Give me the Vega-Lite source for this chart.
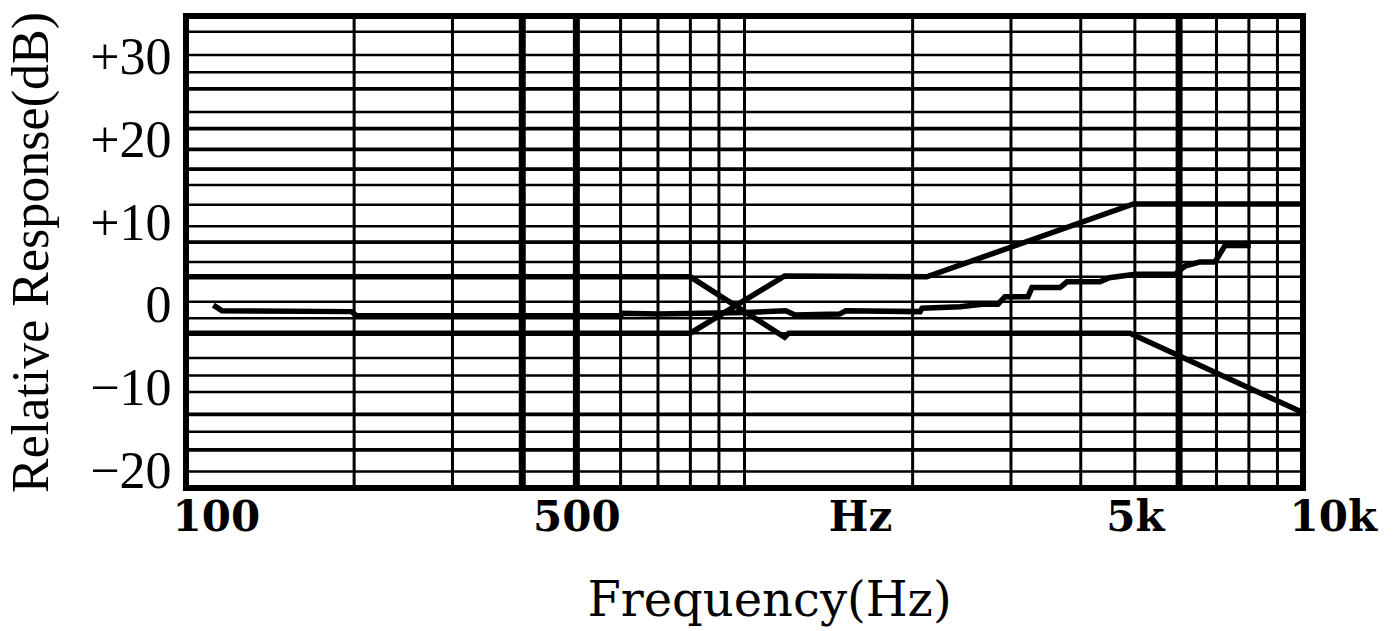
{
  "$schema": "https://vega.github.io/schema/vega-lite/v6.json",
  "autosize": "none",
  "width": 1117,
  "height": 472,
  "padding": {"left": 186, "top": 16, "right": 92, "bottom": 143},
  "background": "white",
  "view": {"stroke": "black", "strokeWidth": 6},
  "resolve": {"scale": {"strokeWidth": "independent"}},
  "datasets": {
    "hgrid": [
      {"db": 33.1, "w": "normal"}, {"db": 30.3, "w": "normal"}, {"db": 28.2, "w": "normal"},
      {"db": 26.2, "w": "heavy"}, {"db": 23.4, "w": "normal"}, {"db": 21.4, "w": "heavy"},
      {"db": 18.9, "w": "heavy"}, {"db": 16.5, "w": "heavy"}, {"db": 14.6, "w": "normal"},
      {"db": 12.2, "w": "normal"}, {"db": 9.6, "w": "normal"}, {"db": 7.7, "w": "heavy"},
      {"db": 5.3, "w": "normal"}, {"db": 3.5, "w": "normal"}, {"db": 0.5, "w": "normal"},
      {"db": -1.5, "w": "normal"}, {"db": -3.3, "w": "normal"}, {"db": -6.3, "w": "normal"},
      {"db": -8.4, "w": "normal"}, {"db": -10.4, "w": "normal"}, {"db": -13.1, "w": "heavy"},
      {"db": -15.2, "w": "normal"}, {"db": -17.4, "w": "heavy"}, {"db": -20.0, "w": "normal"}
    ],
    "vgrid": [
      {"f": 200, "w": "normal"}, {"f": 300, "w": "normal"}, {"f": 400, "w": "heavy"},
      {"f": 500, "w": "heavy"}, {"f": 600, "w": "normal"}, {"f": 700, "w": "normal"},
      {"f": 800, "w": "normal"}, {"f": 900, "w": "normal"}, {"f": 1000, "w": "normal"},
      {"f": 2000, "w": "normal"}, {"f": 3000, "w": "normal"}, {"f": 4000, "w": "normal"},
      {"f": 5000, "w": "normal"}, {"f": 6000, "w": "heavy"}, {"f": 7000, "w": "normal"},
      {"f": 8000, "w": "normal"}, {"f": 9000, "w": "normal"}
    ],
    "curves": [
      {"series": "A", "f": 100, "db": 3.5}, {"series": "A", "f": 800, "db": 3.5},
      {"series": "A", "f": 1180, "db": -3.8}, {"series": "A", "f": 1200, "db": -3.3},
      {"series": "A", "f": 4900, "db": -3.3}, {"series": "A", "f": 10000, "db": -12.9},
      {"series": "B", "f": 100, "db": -3.3}, {"series": "B", "f": 800, "db": -3.3},
      {"series": "B", "f": 1180, "db": 3.6}, {"series": "B", "f": 2120, "db": 3.5},
      {"series": "B", "f": 4970, "db": 12.3}, {"series": "B", "f": 10000, "db": 12.3},
      {"series": "M", "f": 113, "db": -0.1}, {"series": "M", "f": 116, "db": -0.6},
      {"series": "M", "f": 198, "db": -0.7}, {"series": "M", "f": 202, "db": -1.2},
      {"series": "M", "f": 600, "db": -1.2}, {"series": "M", "f": 605, "db": -0.9},
      {"series": "M", "f": 700, "db": -1.0}, {"series": "M", "f": 1000, "db": -0.8},
      {"series": "M", "f": 1185, "db": -0.6}, {"series": "M", "f": 1232, "db": -1.1},
      {"series": "M", "f": 1480, "db": -1.0}, {"series": "M", "f": 1518, "db": -0.6},
      {"series": "M", "f": 2062, "db": -0.7}, {"series": "M", "f": 2080, "db": -0.3},
      {"series": "M", "f": 2432, "db": -0.1}, {"series": "M", "f": 2665, "db": 0.2},
      {"series": "M", "f": 2843, "db": 0.2}, {"series": "M", "f": 2927, "db": 1.1},
      {"series": "M", "f": 3218, "db": 1.1}, {"series": "M", "f": 3271, "db": 2.2},
      {"series": "M", "f": 3672, "db": 2.2}, {"series": "M", "f": 3780, "db": 2.9},
      {"series": "M", "f": 4330, "db": 2.9}, {"series": "M", "f": 4500, "db": 3.4},
      {"series": "M", "f": 5003, "db": 3.8}, {"series": "M", "f": 5900, "db": 3.8},
      {"series": "M", "f": 6150, "db": 4.8}, {"series": "M", "f": 6540, "db": 5.3},
      {"series": "M", "f": 6957, "db": 5.3}, {"series": "M", "f": 7251, "db": 7.3},
      {"series": "M", "f": 7971, "db": 7.3}
    ]
  },
  "layer": [
    {
      "data": {"name": "hgrid"},
      "mark": {"type": "rule", "color": "black"},
      "encoding": {
        "y": {
          "field": "db", "type": "quantitative", "scale": {"domain": [-22, 35], "nice": false, "zero": false},
          "axis": {
            "values": [-20, -10, 0, 10, 20, 30],
            "labelExpr": "datum.value > 0 ? '+' + datum.value : datum.value < 0 ? '\u2212' + abs(datum.value) : '0'",
            "domain": false, "ticks": false, "grid": false,
            "labelFont": "Liberation Serif", "labelFontSize": 52, "labelColor": "black",
            "labelBaseline": "middle", "labelPadding": 15, "labelAlign": "right",
            "title": "Relative Response(dB)", "titleFont": "Liberation Serif", "titleFontSize": 52, "titleFontWeight": "normal", "titleColor": "black",
            "titleX": -155, "titleY": 236, "titleAngle": -90, "titleBaseline": "middle", "titleAlign": "center"
          }
        },
        "strokeWidth": {"field": "w", "type": "nominal", "scale": {"domain": ["normal", "heavy"], "range": [2.5, 3.8]}, "legend": null}
      }
    },
    {
      "data": {"name": "vgrid"},
      "mark": {"type": "rule", "color": "black"},
      "encoding": {
        "x": {
          "field": "f", "type": "quantitative", "scale": {"type": "log", "domain": [100, 10000], "nice": false},
          "axis": {
            "values": [100, 500, 1610, 5000, 10000],
            "labelExpr": "datum.value == 100 ? '100' : datum.value == 500 ? '500' : datum.value == 5000 ? '5k' : datum.value == 10000 ? '10k' : 'Hz'",
            "domain": false, "ticks": false, "grid": false,
            "labelFont": "DejaVu Serif", "labelFontSize": 42, "labelFontWeight": "bold", "labelColor": "black",
            "labelBaseline": "top", "labelPadding": 9, "labelFlush": false, "labelOverlap": false,
            "labelAlign": {"condition": {"test": "datum.value == 100 || datum.value == 10000", "value": "left"}, "value": "center"},
            "labelOffset": {"condition": {"test": "datum.value == 100 || datum.value == 10000", "value": -14}, "value": 0},
            "title": "Frequency(Hz)", "titleFont": "DejaVu Serif", "titleFontSize": 48, "titleFontWeight": "normal", "titleColor": "black",
            "titleX": 583, "titleY": 127, "titleBaseline": "alphabetic", "titleAlign": "center"
          }
        },
        "strokeWidth": {"field": "w", "type": "nominal", "scale": {"domain": ["normal", "heavy"], "range": [3, 7]}, "legend": null}
      }
    },
    {
      "data": {"name": "curves"},
      "mark": {"type": "line", "color": "black", "strokeCap": "square", "strokeJoin": "miter"},
      "encoding": {
        "x": {"field": "f", "type": "quantitative", "scale": {"type": "log", "domain": [100, 10000], "nice": false}},
        "y": {"field": "db", "type": "quantitative", "scale": {"domain": [-22, 35], "nice": false, "zero": false}},
        "detail": {"field": "series", "type": "nominal"},
        "strokeWidth": {"field": "series", "type": "nominal", "scale": {"domain": ["A", "B", "M"], "range": [5.5, 5.5, 2.2]}, "legend": null}
      }
    }
  ]
}
